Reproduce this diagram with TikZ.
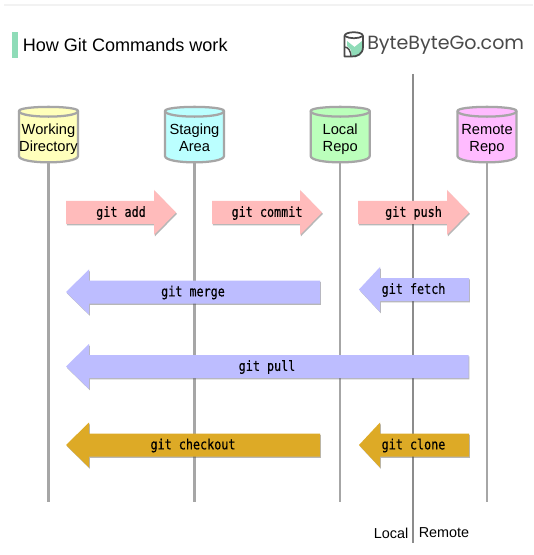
\documentclass[tikz,border=0pt]{standalone}
\usepackage{fontspec}
\setmainfont{Liberation Sans}
\newfontfamily\cmdfont[FakeStretch=0.84,FakeBold=0.4]{DejaVu Sans Mono}
\newfontfamily\logofont{Poppins}
\usetikzlibrary{shadows}
\definecolor{linegray}{HTML}{A6A6A6}
\definecolor{pushred}{HTML}{FFBBBB}
\definecolor{fetchblue}{HTML}{BDBDFF}
\definecolor{clonegold}{HTML}{DDAA26}
\definecolor{logogray}{HTML}{4A4A4A}
\definecolor{logogreen}{HTML}{8FDCB8}
\definecolor{wdfill}{HTML}{FFFFBB}
\definecolor{safill}{HTML}{BBFFFF}
\definecolor{lrfill}{HTML}{BBFFBB}
\definecolor{rrfill}{HTML}{FFBBFF}
\tikzset{
  x=0.75pt,y=-0.75pt,
  lifeline/.style={draw=linegray,line width=1.9pt},
  divider/.style={draw=black!45,line width=1.1pt},
  cmdarrow/.style={draw=none,drop shadow={shadow xshift=0.7pt,shadow yshift=-1pt,opacity=.4,fill=black!70}},
  cmdlabel/.style={font=\cmdfont\fontsize{10.5pt}{11pt}\selectfont,text=black,inner sep=0pt},
  storelabel/.style={font=\fontsize{11pt}{12.6pt}\selectfont,align=center,inner sep=0pt,text=black},
  sidelabel/.style={font=\fontsize{10.8pt}{12pt}\selectfont,inner sep=0pt,text=black},
}
% fill, body left, head base, tip, y centre
\newcommand{\cmdright}[5]{%
  \path[cmdarrow,fill=#1] (#2,#5-11.5) -- (#3,#5-11.5) -- (#3,#5-22.5) -- (#4,#5) -- (#3,#5+22.5) -- (#3,#5+11.5) -- (#2,#5+11.5) -- cycle;}
% fill, tip, head base, body right, y centre
\newcommand{\cmdleft}[5]{%
  \path[cmdarrow,fill=#1] (#2,#5) -- (#3,#5-22.5) -- (#3,#5-11.5) -- (#4,#5-11.5) -- (#4,#5+11.5) -- (#3,#5+11.5) -- (#3,#5+22.5) -- cycle;}
% name, x centre, fill, label line 1, label line 2
\newcommand{\store}[5]{%
  \path[draw=linegray,line width=1.7pt,fill=#3,line join=round]
    (#2-29.5,111) .. controls (#2-29.5,105.5) and (#2+29.5,105.5) .. (#2+29.5,111)
    -- (#2+29.5,156) .. controls (#2+29.5,164.5) and (#2-29.5,164.5) .. (#2-29.5,156) -- cycle;
  \path[draw=linegray,line width=1.7pt]
    (#2-29.5,111) .. controls (#2-29.5,118.5) and (#2+29.5,118.5) .. (#2+29.5,111);
  \node[storelabel] (#1) at (#2,140) {\strut #4\\\strut #5};
  \coordinate (#1top) at (#2,163);
  \coordinate (#1end) at (#2,502);
}
\begin{document}
\begin{tikzpicture}
\useasboundingbox (0,0) rectangle (533,555);
\path[fill=white] (0,0) rectangle (533,555);
\draw[black!5,line width=.8pt] (4,5) -- (533,5);
% title
\fill[logogreen] (12,32) rectangle (18,58);
\node[anchor=west,inner sep=0pt,font=\fontsize{13.55pt}{15pt}\selectfont] (title) at (22.5,45.5) {How Git Commands work};
% logo
\begin{scope}[shift={(343,32)}]
  \fill[logogreen] (4,9) -- (11.5,15) -- (19,9) -- (19,19) .. controls (19,23) and (14,26) .. (9,25) -- (8,18) -- (4,14) -- cycle;
  \draw[logogray,line width=1.3pt,line join=round] (1.5,4) .. controls (1.5,-1) and (20,-1) .. (20,4) -- (20,15) .. controls (20,22) and (14,25) .. (8,24.5) -- (1.5,24.5) -- cycle;
  \draw[logogray,line width=1.3pt,line join=round] (1.5,4) .. controls (7,7) and (15,7) .. (20,4);
  \draw[logogray,line width=1.1pt] (1.5,15) .. controls (5,15) and (8,19) .. (8,24.5);
\end{scope}
\node[anchor=west,inner sep=0pt,text=logogray,font=\logofont\fontsize{14.3pt}{16pt}\selectfont] (logo) at (367,45.5) {ByteByteGo.com};
% stores
\store{wd}{48.5}{wdfill}{Working}{Directory}
\store{sa}{194.5}{safill}{Staging}{Area}
\store{lr}{340.2}{lrfill}{Local}{Repo}
\store{rr}{487}{rrfill}{Remote}{Repo}
% lifelines
\draw[lifeline] (wdtop) -- (wdend);
\draw[lifeline] (satop) -- (saend);
\draw[lifeline] (lrtop) -- (lrend);
\draw[lifeline] (rrtop) -- (rrend);
\coordinate (divtop) at (413,74);
\coordinate (divend) at (413,543);
\draw[divider] (divtop) -- (divend);
\node[sidelabel,anchor=east] (local) at (408.5,533) {Local};
\node[sidelabel,anchor=west] (remote) at (418.5,533) {Remote};
% arrows
\cmdright{pushred}{66}{154}{176}{212.5}
\node[cmdlabel] (add) at (121,213) {git add};
\cmdright{pushred}{212}{300}{322}{212.5}
\node[cmdlabel] (commit) at (267,213) {git commit};
\cmdright{pushred}{358}{447}{469}{212.5}
\node[cmdlabel] (push) at (413.5,213) {git push};
\cmdleft{fetchblue}{66}{89}{320}{292}
\node[cmdlabel] (merge) at (193,292.5) {git merge};
\cmdleft{fetchblue}{359}{380}{469}{289.5}
\node[cmdlabel] (fetch) at (413.5,290) {git fetch};
\cmdleft{fetchblue}{66}{89}{468.5}{366.5}
\node[cmdlabel] (pull) at (267,367) {git pull};
\cmdleft{clonegold}{66}{89}{320}{445}
\node[cmdlabel] (checkout) at (193,445.5) {git checkout};
\cmdleft{clonegold}{359}{380}{469}{445}
\node[cmdlabel] (clone) at (413.5,445.5) {git clone};
\end{tikzpicture}
\end{document}
